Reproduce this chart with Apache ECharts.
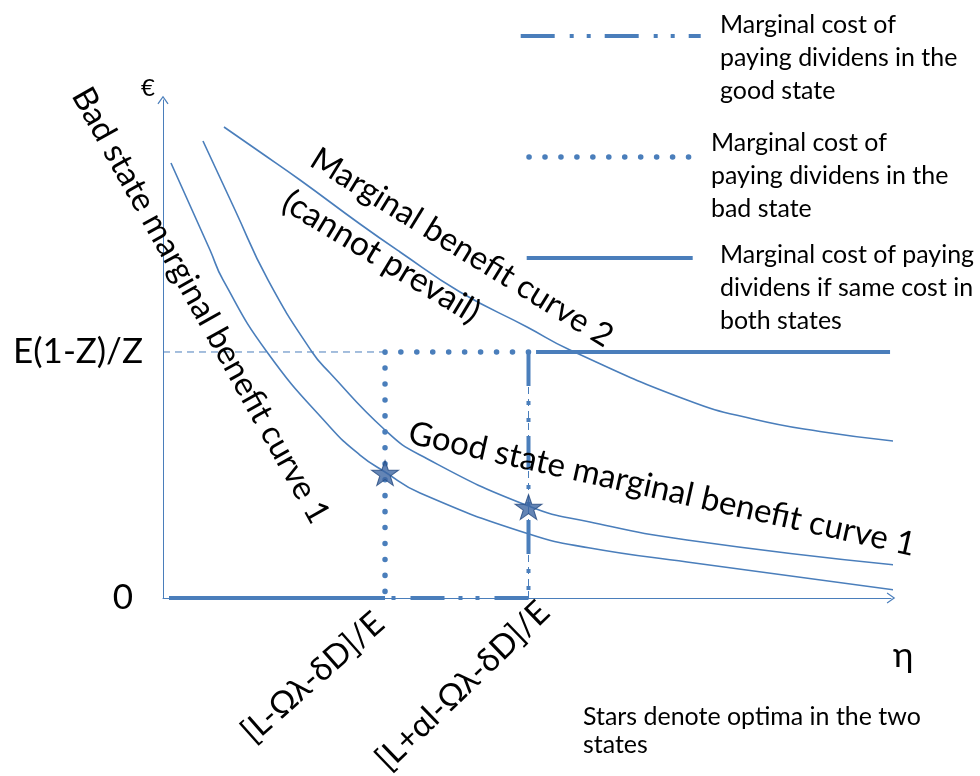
<!DOCTYPE html>
<html><head><meta charset="utf-8">
<script src="https://cdn.jsdelivr.net/npm/echarts@6/dist/echarts.min.js"></script>
<style>html,body{margin:0;padding:0;background:#fff}#c{width:980px;height:776px}</style>
</head><body><div id="c"></div>
<script>
// ---------------- data ----------------
const LEVEL = 49.4;        // E(1-Z)/Z on the € axis
const X_BAD = 30.33;       // [L-Ωλ-δD]/E on the η axis
const X_GOOD = 49.93;      // [L+αl-Ωλ-δD]/E on the η axis
const yTickLabels = ['0', 'E(1-Z)/Z'];
const xTickLabels = ['[L-Ωλ-δD]/E', '[L+αl-Ωλ-δD]/E'];

const badCurveX  = [1.09, 6.42, 8.20, 14.21, 22.81, 26.91, 30.33, 35.11, 50.00, 58.33, 71.58, 100];
const badCurveY  = [87.35, 69.88, 63.86, 49.40, 34.34, 28.71, 25.30, 21.08, 12.85, 10.04, 7.23, 1.61];
const goodCurveX = [5.46, 9.84, 14.34, 20.36, 22.81, 30.33, 35.11, 49.93, 58.33, 71.58, 100];
const goodCurveY = [91.77, 77.91, 63.86, 49.40, 45.18, 33.73, 28.71, 18.47, 15.26, 11.65, 6.63];
const curve2X    = [8.33, 13.25, 18.72, 26.91, 32.38, 40.57, 49.73, 55.60, 71.58, 80.60, 89.75, 99.73];
const curve2Y    = [94.58, 89.56, 83.94, 75.10, 69.48, 61.45, 54.42, 49.80, 39.76, 35.94, 33.43, 31.53];

const sameCostLowX  = [0.82, 30.33];  const sameCostLowY  = [0, 0];
const sameCostHighX = [50.96, 99.32]; const sameCostHighY = [49.4, 49.4];
const badCostX  = [49.93, 30.33, 30.33]; const badCostY  = [49.4, 49.4, 0];
const goodCostVX = [49.93, 49.93];       const goodCostVY = [49.4, 0];
const goodCostHX = [49.93, 30.33];       const goodCostHY = [0, 0];
const guideHX = [0, 30.33];  const guideHY = [49.4, 49.4];
const guideVX = [49.93, 49.93]; const guideVY = [0, 49.4];
const starX = [30.33, 49.93];
const starY = [25.30, 18.47];

const costNames = [
  'Marginal cost of paying dividens in the good state',
  'Marginal cost of paying dividens in the bad state',
  'Marginal cost of paying dividens if same cost in both states'
];
const legendLines = [
  ['Marginal cost of', 'paying dividens in the', 'good state'],
  ['Marginal cost of', 'paying dividens in the', 'bad state'],
  ['Marginal cost of paying', 'dividens if same cost in', 'both states']
];
const curveNames = ['Bad state marginal benefit curve 1', 'Good state marginal benefit curve 1',
                    'Marginal benefit curve 2', '(cannot prevail)'];
const noteText = 'Stars denote optima in the two\nstates';

// ---------------- helpers ----------------
const FAM = 'Lato, "Open Sans", "DejaVu Sans", sans-serif';
const ctx = document.createElement('canvas').getContext('2d');
function fit(text, width) { ctx.font = '100px ' + FAM; return 100 * width / ctx.measureText(text).width; }
const zip = (xs, ys) => xs.map((x, i) => [x, ys[i]]);
const D = Math.PI / 180;
const BLUE = '#4A7EBB';

const LEG_FS = fit('Marginal cost of', 176);
const NOTE_FS = fit('Stars denote optima in the two', 338);
const BIG_FS = fit('E(1-Z)/Z', 130);
const BAD_FS = fit(curveNames[0], 493.7);
const GOOD_FS = fit(curveNames[1], 518.5);
const C2_FS = fit(curveNames[2], 348.7);
const C2B_FS = fit(curveNames[3], 224.2);
const TICK_FS = (BAD_FS + GOOD_FS + C2_FS) / 3;

const ARROW = 'path://M0,8.5 L6,0 L12,8.5 L10.9,9.2 L6,2.2 L1.1,9.2 Z';
const DASH_DOT_DOT = [34, 15, 4, 13, 4, 14];
const DOTS = [0.1, 15.85];

function lineSeries(name, data, style, z) {
  return { type: 'line', name: name, data: data, symbol: 'none', clip: false, z: z || 2,
           lineStyle: Object.assign({ color: BLUE }, style), itemStyle: { color: BLUE } };
}
function curveSeries(name, data) {
  const s = lineSeries(name, data, { width: 1.6 }, 2);
  s.smooth = 0.5;
  return s;
}

// shift = how far (px) the centre of the 3-line text block sits below the legend line
function legendFor(i, left, top, itemWidth, lw, shift, padLeft) {
  return {
    data: [costNames[i]], left: left, top: top, padding: 0, orient: 'vertical',
    itemWidth: itemWidth, itemHeight: 4, selectedMode: false,
    lineStyle: { width: lw }, itemStyle: { opacity: 0, borderWidth: 0 },
    formatter: (name) => '{sp| }\n' + legendLines[costNames.indexOf(name)].map(l => '{t|' + l + '}').join('\n'),
    textStyle: {
      fontFamily: FAM, fontSize: LEG_FS, color: '#000', padding: [0, 0, 0, padLeft],
      rich: {
        sp: { fontSize: 2, lineHeight: 2 * shift },
        t: { fontFamily: FAM, fontSize: LEG_FS, lineHeight: 33, color: '#000' }
      }
    }
  };
}

const chart = echarts.init(document.getElementById('c'), null, { renderer: 'canvas' });
chart.setOption({
  animation: false,
  backgroundColor: '#fff',
  grid: { left: 163, right: 89, top: 100, bottom: 178, containLabel: false, outerBoundsMode: 'none' },
  xAxis: {
    type: 'value', min: 0, max: 99.45,
    axisLine: { show: true, onZero: false, lineStyle: { color: BLUE, width: 1 },
                symbol: ['none', ARROW], symbolSize: [12, 8.5] },
    axisTick: { show: false }, splitLine: { show: false }, axisLabel: { show: false },
    name: '{sp| }\n{e|η}', nameLocation: 'end', nameGap: 2,
    nameTextStyle: { fontFamily: FAM, fontSize: BIG_FS, color: '#000',
      rich: { sp: { fontSize: 2, lineHeight: 116 }, e: { fontFamily: FAM, fontSize: BIG_FS, lineHeight: 48, color: '#000' } } }
  },
  yAxis: {
    type: 'value', min: 0, max: 100,
    axisLine: { show: true, onZero: false, lineStyle: { color: BLUE, width: 1 },
                symbol: ['none', ARROW], symbolSize: [12, 8.5] },
    axisTick: { show: false }, splitLine: { show: false },
    axisLabel: {
      customValues: [0, LEVEL], margin: 20, color: '#000', fontFamily: FAM, fontSize: BIG_FS,
      formatter: (v) => v === 0 ? '{z|' + yTickLabels[0] + '}' : yTickLabels[1],
      rich: { z: { padding: [0, 10, 0, 0], fontFamily: FAM, fontSize: BIG_FS, color: '#000' } }
    },
    name: '€', nameLocation: 'end', nameGap: 0,
    nameTextStyle: { fontFamily: FAM, fontSize: 24, color: '#000', padding: [0, 30, 0, 0] }
  },
  legend: [
    legendFor(0, 518.7, -14.5, 180, 4, 22, 14.3),
    legendFor(1, 526.25, 106.5, 160, 5.5, 19, 17),
    legendFor(2, 524.7, 207.5, 166, 4, 30, 22.3)
  ],
  series: [
    lineSeries('guideH', zip(guideHX, guideHY), { width: 1, type: [7, 5] }, 1),
    lineSeries('guideV', zip(guideVX, guideVY), { width: 1, type: [7, 5] }, 1),
    curveSeries(curveNames[0], zip(badCurveX, badCurveY)),
    curveSeries(curveNames[1], zip(goodCurveX, goodCurveY)),
    curveSeries(curveNames[2], zip(curve2X, curve2Y)),
    lineSeries(costNames[0], zip(goodCostVX, goodCostVY), { width: 4, type: DASH_DOT_DOT, cap: 'butt' }, 3),
    lineSeries(costNames[0], zip(goodCostHX, goodCostHY), { width: 4, type: DASH_DOT_DOT, cap: 'butt' }, 3),
    lineSeries(costNames[1], zip(badCostX, badCostY), { width: 5.5, type: DOTS, cap: 'round' }, 3),
    lineSeries(costNames[2], zip(sameCostLowX, sameCostLowY), { width: 4, type: 'solid' }, 3),
    lineSeries(costNames[2], zip(sameCostHighX, sameCostHighY), { width: 4, type: 'solid' }, 3),
    {
      type: 'scatter', name: 'optima', data: zip(starX, starY), z: 5,
      symbol: 'path://M50,0 L61.8,35.1 L98.1,35.1 L68.8,56.7 L79.4,90.9 L50,69.1 L20.6,90.9 L31.2,56.7 L1.9,35.1 L38.2,35.1 Z',
      symbolSize: [27, 25], symbolOffset: [0, 1],
      itemStyle: { color: '#3D66A3', borderColor: '#24487E', borderWidth: 1 }
    }
  ],
  graphic: [
    { type: 'text', x: 200.6, y: 305.4, rotation: -60.8 * D, z: 10,
      style: { text: curveNames[0], fontFamily: FAM, fontSize: BAD_FS, fill: '#000', align: 'center', verticalAlign: 'middle' } },
    { type: 'text', x: 662, y: 489, rotation: -12.6 * D, z: 10,
      style: { text: curveNames[1], fontFamily: FAM, fontSize: GOOD_FS, fill: '#000', align: 'center', verticalAlign: 'middle' } },
    { type: 'text', x: 461.8, y: 247.7, rotation: -31.7 * D, z: 10,
      style: { text: curveNames[2], fontFamily: FAM, fontSize: C2_FS, fill: '#000', align: 'center', verticalAlign: 'middle' } },
    { type: 'text', x: 381.3, y: 257, rotation: -31.2 * D, z: 10,
      style: { text: curveNames[3], fontFamily: FAM, fontSize: C2B_FS, fill: '#000', align: 'center', verticalAlign: 'middle' } },
    { type: 'text', x: 312.8, y: 677.4, rotation: 41.5 * D, z: 10,
      style: { text: xTickLabels[0], fontFamily: FAM, fontSize: TICK_FS, fill: '#000', align: 'center', verticalAlign: 'middle' } },
    { type: 'text', x: 462.7, y: 685.7, rotation: 44 * D, z: 10,
      style: { text: xTickLabels[1], fontFamily: FAM, fontSize: TICK_FS, fill: '#000', align: 'center', verticalAlign: 'middle' } },
    { type: 'text', x: 583, y: 703, z: 10,
      style: { text: noteText, fontFamily: FAM, fontSize: NOTE_FS, lineHeight: 28, fill: '#000', align: 'left', verticalAlign: 'top' } }
  ]
});
</script></body></html>
